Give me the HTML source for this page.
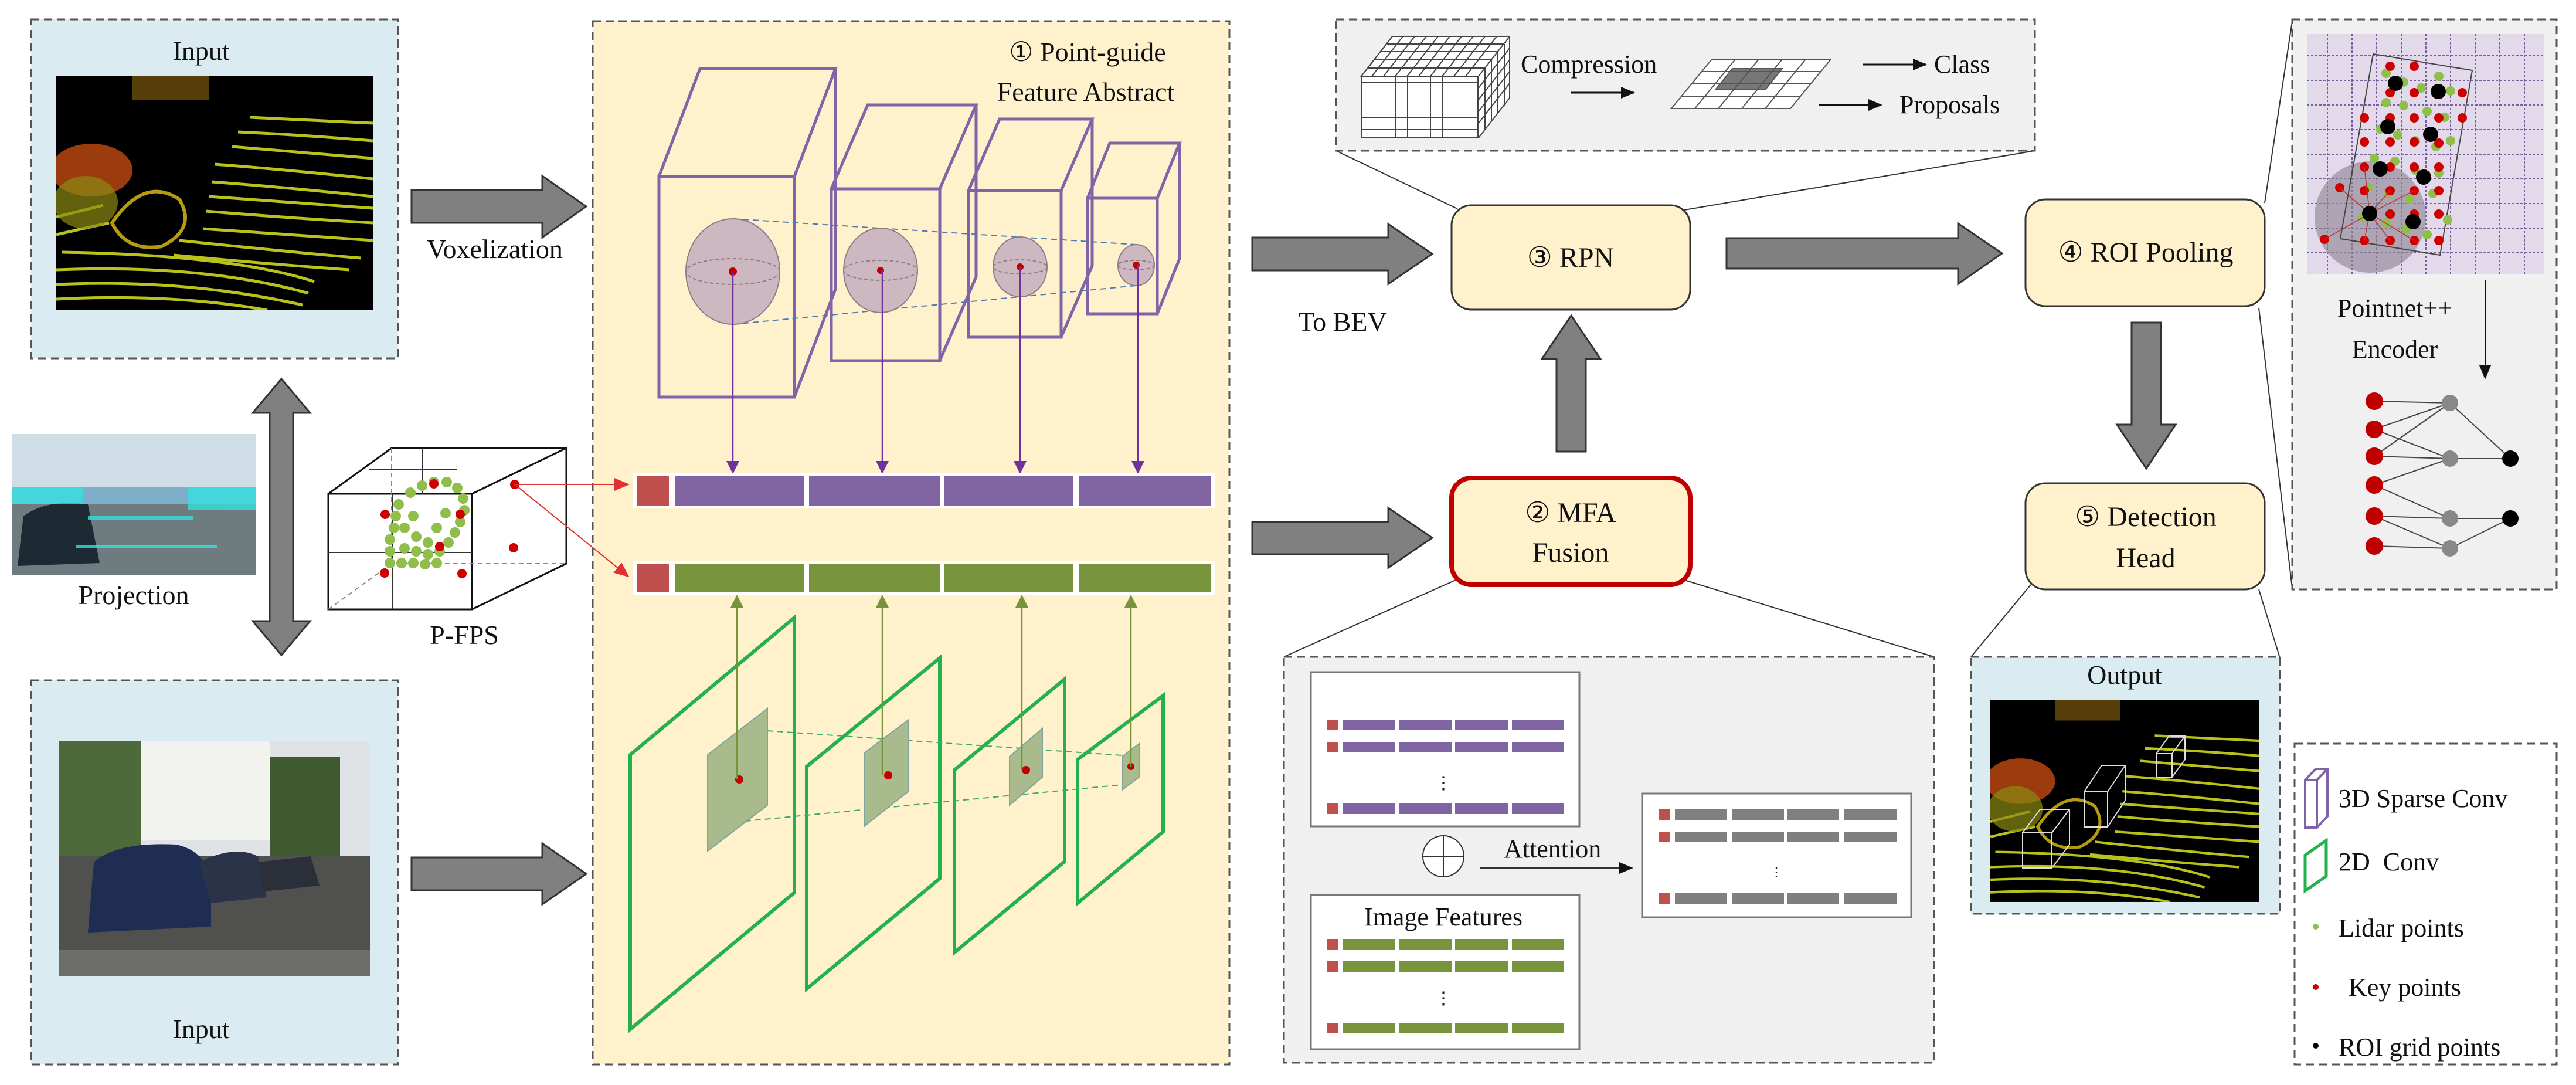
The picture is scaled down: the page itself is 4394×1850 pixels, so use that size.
<!DOCTYPE html>
<html><head><meta charset="utf-8"><style>
html,body{margin:0;padding:0;background:#fff}
svg{display:block;font-family:"Liberation Serif","DejaVu Serif",serif}
svg text{font-family:"Liberation Serif","DejaVu Serif",serif;fill:#111}
</style></head><body>
<svg width="4394" height="1850" viewBox="0 0 4394 1850" xmlns="http://www.w3.org/2000/svg" font-family="Liberation Serif, DejaVu Serif, serif">
<defs>
<marker id="apu" markerWidth="22" markerHeight="22" refX="20" refY="11" orient="auto" markerUnits="userSpaceOnUse"><path d="M0,0 L22,11 L0,22z" fill="#7030a0"/></marker>
<marker id="agu" markerWidth="22" markerHeight="22" refX="20" refY="11" orient="auto" markerUnits="userSpaceOnUse"><path d="M0,0 L22,11 L0,22z" fill="#77933c"/></marker>
<marker id="ar" markerWidth="26" markerHeight="22" refX="24" refY="11" orient="auto" markerUnits="userSpaceOnUse"><path d="M0,0 L26,11 L0,22z" fill="#e03030"/></marker>
<marker id="ak" markerWidth="24" markerHeight="20" refX="22" refY="10" orient="auto" markerUnits="userSpaceOnUse"><path d="M0,0 L24,10 L0,20z" fill="#111"/></marker>
<pattern id="grid" width="42" height="42" patternUnits="userSpaceOnUse" x="3935" y="58"><rect width="42" height="42" fill="#e2d9eb"/><path d="M35,0V42M0,37H42" stroke="#7a5ea0" stroke-width="2" stroke-dasharray="4,3"/></pattern>
<pattern id="g3" width="20" height="20" patternUnits="userSpaceOnUse"><path d="M0,0H20M0,0V20" stroke="#444" stroke-width="2" fill="none"/></pattern>
<clipPath id="c1"><rect x="96" y="130" width="540" height="399"/></clipPath>
<clipPath id="c2"><rect x="3395" y="1194" width="458" height="344"/></clipPath>
<g id="lid">
<rect x="0" y="0" width="540" height="399" fill="#000"/>
<g fill="none" stroke="#b8c21a" stroke-width="5">
<path d="M270,150 Q400,160 540,175"/><path d="M265,180 Q400,190 540,205"/><path d="M260,205 Q400,215 540,225"/><path d="M255,230 Q400,242 540,250"/>
<path d="M250,260 Q400,270 540,280"/><path d="M210,280 Q400,300 520,310"/><path d="M200,305 Q360,320 500,330"/><path d="M10,300 Q300,305 440,350"/>
<path d="M0,330 Q250,320 430,370"/><path d="M0,355 Q220,345 420,390"/><path d="M0,380 Q200,370 360,399"/><path d="M300,120 Q420,130 540,140"/>
<path d="M310,95 Q420,100 540,110"/><path d="M330,70 Q440,75 540,80"/><path d="M0,270 L90,250"/><path d="M0,240 L80,220"/>
</g>
<ellipse cx="60" cy="160" rx="70" ry="45" fill="#c24a12" opacity=".8"/>
<ellipse cx="50" cy="215" rx="55" ry="45" fill="#8a8a14" opacity=".7"/>
<path d="M95,250 Q150,170 210,210 Q240,260 180,290 Q120,300 95,250z" fill="none" stroke="#b59b10" stroke-width="6"/>
<rect x="130" y="0" width="130" height="40" fill="#7a5a10" opacity=".7"/>
</g>
</defs>

<rect x="53" y="33" width="626" height="578" fill="#daebf1" stroke="#555" stroke-width="3" stroke-dasharray="14,8"/>
<text x="343" y="102" font-size="46" text-anchor="middle">Input</text>
<g clip-path="url(#c1)"><use href="#lid" x="96" y="130"/></g>

<rect x="53" y="1160" width="626" height="655" fill="#daebf1" stroke="#555" stroke-width="3" stroke-dasharray="14,8"/>
<text x="343" y="1770" font-size="46" text-anchor="middle">Input</text>
<g>
<rect x="101" y="1263" width="530" height="402" fill="#dfe3e6"/>
<rect x="230" y="1263" width="230" height="170" fill="#f2f2ee"/>
<rect x="101" y="1263" width="140" height="260" fill="#4c6a3a"/>
<rect x="460" y="1290" width="120" height="170" fill="#3f5a30"/>
<rect x="101" y="1460" width="530" height="205" fill="#50514f"/>
<path d="M160,1470 Q200,1435 300,1440 Q350,1450 360,1500 L360,1580 L150,1590z" fill="#1f2d52"/>
<path d="M340,1470 Q400,1440 440,1460 L455,1530 L360,1540z" fill="#2a3348"/>
<path d="M440,1470 L530,1460 L545,1510 L450,1520z" fill="#2a2f3a"/>
<rect x="101" y="1620" width="530" height="45" fill="#6d6d6a"/>
</g>

<rect x="21" y="740" width="416" height="241" fill="#7db0c8"/>
<rect x="21" y="740" width="416" height="90" fill="#cfdde6"/>
<rect x="21" y="860" width="416" height="121" fill="#6e7c80"/>
<path d="M40,880 Q80,850 150,860 L170,960 L30,965z" fill="#1d2a33"/>
<g fill="#36e0e0" opacity=".8"><rect x="21" y="830" width="120" height="30"/><rect x="320" y="830" width="117" height="40"/><rect x="150" y="880" width="180" height="6"/><rect x="130" y="930" width="240" height="5"/></g>
<text x="228" y="1030" font-size="46" text-anchor="middle">Projection</text>

<path d="M480,646 L529,704 L500,704 L500,1059 L529,1059 L480,1117 L431,1059 L460,1059 L460,704 L431,704z" fill="#808080" stroke="#333" stroke-width="3"/>

<g fill="none" stroke="#111" stroke-width="3">
<rect x="560" y="842" width="245" height="197"/>
<path d="M560,842 L668,764 L966,764 L966,961 L805,1039 M805,842 L966,764"/>
</g>
<g fill="none" stroke="#888" stroke-width="2" stroke-dasharray="8,6">
<path d="M560,1039 L668,961 L966,961 M668,764 L668,961"/>
</g>
<g stroke="#333" stroke-width="2" fill="none"><path d="M670,842 L670,1039 M560,942 L805,942 M630,800 L780,800 M720,764 L720,842"/></g>
<g fill="#8fbf4a">
<circle cx="700" cy="840" r="9"/><circle cx="720" cy="828" r="9"/><circle cx="740" cy="822" r="9"/><circle cx="762" cy="822" r="9"/><circle cx="780" cy="832" r="9"/><circle cx="790" cy="850" r="9"/><circle cx="792" cy="870" r="9"/><circle cx="785" cy="890" r="9"/><circle cx="776" cy="908" r="9"/><circle cx="765" cy="925" r="9"/>
<circle cx="680" cy="860" r="9"/><circle cx="675" cy="880" r="9"/><circle cx="672" cy="900" r="9"/><circle cx="665" cy="920" r="9"/><circle cx="665" cy="940" r="9"/><circle cx="665" cy="960" r="9"/><circle cx="685" cy="960" r="9"/><circle cx="705" cy="960" r="9"/><circle cx="725" cy="962" r="9"/><circle cx="745" cy="960" r="9"/>
<circle cx="690" cy="900" r="9"/><circle cx="710" cy="915" r="9"/><circle cx="730" cy="925" r="9"/><circle cx="750" cy="940" r="9"/><circle cx="690" cy="935" r="9"/><circle cx="710" cy="940" r="9"/><circle cx="730" cy="945" r="9"/><circle cx="705" cy="880" r="9"/><circle cx="745" cy="900" r="9"/><circle cx="760" cy="875" r="9"/>
</g>
<g fill="#d00000"><circle cx="740" cy="825" r="8"/><circle cx="878" cy="826" r="8"/><circle cx="657" cy="877" r="8"/><circle cx="785" cy="877" r="8"/><circle cx="750" cy="932" r="8"/><circle cx="876" cy="934" r="8"/><circle cx="656" cy="977" r="8"/><circle cx="788" cy="978" r="8"/></g>
<text x="792" y="1098" font-size="46" text-anchor="middle">P-FPS</text>

<g fill="#808080" stroke="#333" stroke-width="3">
<path d="M702,324 L925,324 L925,300 L1000,352 L925,405 L925,380 L702,380z"/>
<path d="M702,1462 L925,1462 L925,1438 L1000,1490 L925,1542 L925,1518 L702,1518z"/>
<path d="M2136,405 L2368,405 L2368,382 L2443,433 L2368,484 L2368,461 L2136,461z"/>
<path d="M2136,890 L2368,890 L2368,866 L2443,917 L2368,968 L2368,945 L2136,945z"/>
<path d="M2945,406 L3340,406 L3340,381 L3415,432 L3340,484 L3340,458 L2945,458z"/>
<path d="M2655,770 L2655,612 L2630,612 L2680,538 L2730,612 L2705,612 L2705,770z"/>
<path d="M3636,550 L3686,550 L3686,724 L3711,724 L3661,799 L3611,724 L3636,724z"/>
</g>
<text x="844" y="440" font-size="46" text-anchor="middle">Voxelization</text>
<text x="2290" y="564" font-size="46" text-anchor="middle">To BEV</text>

<rect x="1011" y="36" width="1086" height="1779" fill="#fef1cc" stroke="#555" stroke-width="3" stroke-dasharray="14,8"/>
<text x="1855" y="104" font-size="46" text-anchor="middle">① Point-guide</text>
<text x="1852" y="172" font-size="46" text-anchor="middle">Feature Abstract</text>

<g fill="none" stroke="#8064a8" stroke-width="5">
<path d="M1124,301 L1124,677 L1355,677 L1355,301z M1124,301 L1194,117 L1425,117 L1355,301 M1425,117 L1425,493 L1355,677"/>
<path d="M1418,322 L1418,615 L1603,615 L1603,322z M1418,322 L1480,179 L1665,179 L1603,322 M1665,179 L1665,472 L1603,615"/>
<path d="M1652,325 L1652,575 L1810,575 L1810,325z M1652,325 L1705,203 L1863,203 L1810,325 M1863,203 L1863,453 L1810,575"/>
<path d="M1855,338 L1855,535 L1974,535 L1974,338z M1855,338 L1893,244 L2012,244 L1974,338 M2012,244 L2012,441 L1974,535"/>
</g>
<g stroke="#4a7ab0" stroke-width="2" stroke-dasharray="10,7" fill="none">
<path d="M1250,373 L1938,417"/><path d="M1250,553 L1938,487"/>
</g>
<g fill="#cdb8c2" stroke="#8c7d88" stroke-width="2">
<ellipse cx="1250" cy="463" rx="80" ry="90"/><ellipse cx="1502" cy="461" rx="63" ry="72"/><ellipse cx="1740" cy="455" rx="46" ry="51"/><ellipse cx="1938" cy="452" rx="31" ry="35"/>
</g>
<g fill="none" stroke="#8c7d88" stroke-width="2" stroke-dasharray="6,4">
<ellipse cx="1250" cy="463" rx="80" ry="22"/><ellipse cx="1502" cy="461" rx="63" ry="17"/><ellipse cx="1740" cy="455" rx="46" ry="12"/><ellipse cx="1938" cy="452" rx="31" ry="8"/>
</g>
<g fill="#c00000"><circle cx="1250" cy="463" r="7"/><circle cx="1502" cy="461" r="6"/><circle cx="1740" cy="455" r="6"/><circle cx="1938" cy="452" r="6"/></g>
<g stroke="#7030a0" stroke-width="2.5">
<path d="M1250,463 L1250,806" marker-end="url(#apu)"/><path d="M1505,461 L1505,806" marker-end="url(#apu)"/><path d="M1740,455 L1740,806" marker-end="url(#apu)"/><path d="M1941,452 L1941,806" marker-end="url(#apu)"/>
</g>

<rect x="1080" y="807" width="992" height="60" fill="#fff"/>
<rect x="1086" y="812" width="55" height="50" fill="#c0504d"/>
<g fill="#8064a2"><rect x="1151" y="812" width="221" height="50"/><rect x="1380" y="812" width="223" height="50"/><rect x="1610" y="812" width="221" height="50"/><rect x="1841" y="812" width="224" height="50"/></g>
<rect x="1080" y="956" width="992" height="58" fill="#fff"/>
<rect x="1086" y="961" width="55" height="48" fill="#c0504d"/>
<g fill="#77933c"><rect x="1151" y="961" width="221" height="48"/><rect x="1380" y="961" width="223" height="48"/><rect x="1610" y="961" width="221" height="48"/><rect x="1841" y="961" width="224" height="48"/></g>
<path d="M878,826 L1072,826" stroke="#e03030" stroke-width="2" marker-end="url(#ar)"/>
<path d="M878,826 L1072,983" stroke="#e03030" stroke-width="2" marker-end="url(#ar)"/>

<g fill="none" stroke="#22b14c" stroke-width="6">
<path d="M1075,1287 L1355,1053 L1355,1522 L1075,1755z"/>
<path d="M1376,1307 L1603,1122 L1603,1498 L1376,1686z"/>
<path d="M1628,1313 L1816,1158 L1816,1469 L1628,1624z"/>
<path d="M1838,1295 L1984,1186 L1984,1418 L1838,1540z"/>
</g>
<g stroke="#3aa870" stroke-width="2" stroke-dasharray="10,7" fill="none">
<path d="M1309,1246 L1943,1290"/><path d="M1220,1405 L1914,1338"/>
</g>
<g fill="#a9bb8c" stroke="#7fa4a0" stroke-width="2">
<path d="M1207,1287 L1309,1208 L1309,1373 L1207,1451z"/>
<path d="M1474,1284 L1550,1227 L1550,1349 L1474,1409z"/>
<path d="M1722,1290 L1778,1242 L1778,1325 L1722,1373z"/>
<path d="M1914,1290 L1943,1268 L1943,1325 L1914,1347z"/>
</g>
<g fill="#c00000"><circle cx="1261" cy="1329" r="7"/><circle cx="1515" cy="1322" r="7"/><circle cx="1750" cy="1313" r="7"/><circle cx="1929" cy="1307" r="6"/></g>
<g stroke="#77933c" stroke-width="2.5">
<path d="M1257,1329 L1257,1016" marker-end="url(#agu)"/><path d="M1505,1322 L1505,1016" marker-end="url(#agu)"/><path d="M1743,1313 L1743,1016" marker-end="url(#agu)"/><path d="M1929,1307 L1929,1016" marker-end="url(#agu)"/>
</g>

<path d="M2279,257 L2486,356 M3471,257 L2873,358" stroke="#333" stroke-width="2"/>
<rect x="2279" y="33" width="1192" height="224" fill="#f0f0f0" stroke="#555" stroke-width="3" stroke-dasharray="14,8"/>
<g stroke="#444" stroke-width="2" fill="#fff">
<path d="M2322,235 L2322,130 L2375,62 L2575,62 L2575,167 L2522,235z"/>
<rect x="2322" y="130" width="200" height="105" fill="url(#g3)"/>
<path d="M2322,130 L2375,62 L2575,62 L2522,130z" fill="none"/>
<path d="M2340,130 L2393,62 M2360,130 L2413,62 M2380,130 L2433,62 M2400,130 L2453,62 M2420,130 L2473,62 M2440,130 L2493,62 M2460,130 L2513,62 M2480,130 L2533,62 M2500,130 L2553,62 M2333,116 L2533,116 M2344,102 L2544,102 M2355,88 L2555,88 M2366,75 L2566,75 M2533,116 L2533,221 M2544,102 L2544,207 M2555,88 L2555,193 M2566,75 L2566,180 M2522,150 L2575,82 M2522,170 L2575,102 M2522,190 L2575,122 M2522,210 L2575,142" fill="none"/>
</g>
<text x="2594" y="124" font-size="44">Compression</text>
<path d="M2680,158 L2787,158" stroke="#111" stroke-width="3" marker-end="url(#ak)"/>
<g stroke="#555" stroke-width="2" fill="#fff">
<path d="M2851,185 L2920,101 L3123,101 L3054,185z"/>
<path d="M2926,153 L2955,117 L3040,117 L3011,153z" fill="#777"/>
<path d="M2868,164 L3071,164 M2885,143 L3088,143 M2902,122 L3105,122 M2891,185 L2960,101 M2931,185 L3000,101 M2971,185 L3040,101 M3011,185 L3080,101" fill="none"/>
</g>
<path d="M3177,110 L3285,110" stroke="#111" stroke-width="3" marker-end="url(#ak)"/>
<path d="M3102,179 L3209,179" stroke="#111" stroke-width="3" marker-end="url(#ak)"/>
<text x="3299" y="124" font-size="44">Class</text>
<text x="3240" y="193" font-size="44">Proposals</text>

<rect x="2476" y="350" width="407" height="178" rx="34" fill="#fef1cc" stroke="#333" stroke-width="3"/>
<text x="2679" y="455" font-size="48" text-anchor="middle">③ RPN</text>
<path d="M2483,989 L2190,1120 M2873,989 L3299,1120" stroke="#333" stroke-width="2"/>
<rect x="2476" y="815" width="407" height="182" rx="34" fill="#fef1cc" stroke="#c00000" stroke-width="8"/>
<text x="2679" y="890" font-size="48" text-anchor="middle">② MFA</text>
<text x="2679" y="958" font-size="48" text-anchor="middle">Fusion</text>
<rect x="3455" y="340" width="408" height="182" rx="34" fill="#fef1cc" stroke="#333" stroke-width="3"/>
<text x="3660" y="446" font-size="48" text-anchor="middle">④ ROI Pooling</text>
<rect x="3455" y="824" width="408" height="181" rx="34" fill="#fef1cc" stroke="#333" stroke-width="3"/>
<text x="3660" y="897" font-size="48" text-anchor="middle">⑤ Detection</text>
<text x="3660" y="967" font-size="48" text-anchor="middle">Head</text>

<path d="M3863,346 L3910,36 M3853,525 L3910,1003" stroke="#333" stroke-width="2"/>
<rect x="3910" y="33" width="451" height="972" fill="#f0f0f0" stroke="#555" stroke-width="3" stroke-dasharray="14,8"/>
<rect x="3935" y="58" width="405" height="409" fill="url(#grid)"/>
<circle cx="4043" cy="370" r="95" fill="#8a8290" opacity=".6"/>
<path d="M4048,92 L4217,120 L4162,435 L3992,407z" fill="none" stroke="#444" stroke-width="2"/>
<g fill="#8fbf4a">
<circle cx="4070" cy="125" r="8"/><circle cx="4100" cy="140" r="8"/><circle cx="4130" cy="150" r="8"/><circle cx="4160" cy="130" r="8"/><circle cx="4180" cy="155" r="8"/><circle cx="4070" cy="175" r="8"/><circle cx="4100" cy="180" r="8"/><circle cx="4140" cy="190" r="8"/><circle cx="4170" cy="200" r="8"/>
<circle cx="4060" cy="220" r="8"/><circle cx="4090" cy="230" r="8"/><circle cx="4120" cy="240" r="8"/><circle cx="4155" cy="250" r="8"/><circle cx="4180" cy="240" r="8"/><circle cx="4050" cy="270" r="8"/><circle cx="4085" cy="275" r="8"/><circle cx="4120" cy="290" r="8"/><circle cx="4160" cy="295" r="8"/>
<circle cx="4040" cy="320" r="8"/><circle cx="4075" cy="330" r="8"/><circle cx="4110" cy="340" r="8"/><circle cx="4150" cy="330" r="8"/><circle cx="4030" cy="370" r="8"/><circle cx="4070" cy="380" r="8"/><circle cx="4105" cy="390" r="8"/><circle cx="4140" cy="400" r="8"/><circle cx="4175" cy="375" r="8"/>
</g>
<g fill="#d00000">
<circle cx="4077" cy="113" r="8"/><circle cx="4118" cy="113" r="8"/><circle cx="4077" cy="158" r="8"/><circle cx="4118" cy="158" r="8"/><circle cx="4200" cy="158" r="8"/>
<circle cx="4033" cy="201" r="8"/><circle cx="4077" cy="201" r="8"/><circle cx="4118" cy="201" r="8"/><circle cx="4160" cy="201" r="8"/><circle cx="4200" cy="201" r="8"/>
<circle cx="4033" cy="242" r="8"/><circle cx="4077" cy="242" r="8"/><circle cx="4118" cy="242" r="8"/><circle cx="4160" cy="244" r="8"/>
<circle cx="4033" cy="285" r="8"/><circle cx="4077" cy="285" r="8"/><circle cx="4118" cy="285" r="8"/><circle cx="4160" cy="285" r="8"/>
<circle cx="3991" cy="320" r="8"/><circle cx="4033" cy="325" r="8"/><circle cx="4077" cy="325" r="8"/><circle cx="4118" cy="325" r="8"/><circle cx="4160" cy="325" r="8"/>
<circle cx="4077" cy="365" r="8"/><circle cx="4118" cy="365" r="8"/><circle cx="4160" cy="365" r="8"/>
<circle cx="3965" cy="408" r="8"/><circle cx="4033" cy="410" r="8"/><circle cx="4077" cy="410" r="8"/><circle cx="4118" cy="410" r="8"/><circle cx="4160" cy="410" r="8"/>
</g>
<g stroke="#c03030" stroke-width="1.5"><path d="M4042,364 L3965,408 M4042,364 L3991,320 M4042,364 L4033,410 M4042,364 L4077,410 M4042,364 L4118,410 M4042,364 L4118,325 M4042,364 L4077,325 M4042,364 L4033,285"/></g>
<g fill="#000"><circle cx="4086" cy="142" r="13"/><circle cx="4159" cy="156" r="13"/><circle cx="4073" cy="216" r="13"/><circle cx="4146" cy="229" r="13"/><circle cx="4060" cy="288" r="13"/><circle cx="4134" cy="302" r="13"/><circle cx="4042" cy="364" r="13"/><circle cx="4116" cy="378" r="13"/></g>
<text x="4085" y="540" font-size="44" text-anchor="middle">Pointnet++</text>
<text x="4085" y="610" font-size="44" text-anchor="middle">Encoder</text>
<path d="M4239,478 L4239,645" stroke="#111" stroke-width="2" marker-end="url(#ak)"/>
<g stroke="#444" stroke-width="2">
<path d="M4050,684 L4179,687 M4050,732 L4179,687 M4050,778 L4179,687 M4050,732 L4179,782 M4050,778 L4179,782 M4050,827 L4179,782 M4050,880 L4179,884 M4050,827 L4179,884 M4050,880 L4179,935 M4050,931 L4179,935 M4179,687 L4282,782 M4179,782 L4282,782 M4179,884 L4282,884 M4179,935 L4282,884"/>
</g>
<g fill="#c00000"><circle cx="4050" cy="684" r="15"/><circle cx="4050" cy="732" r="15"/><circle cx="4050" cy="778" r="15"/><circle cx="4050" cy="827" r="15"/><circle cx="4050" cy="880" r="15"/><circle cx="4050" cy="931" r="15"/></g>
<g fill="#888"><circle cx="4179" cy="687" r="14"/><circle cx="4179" cy="782" r="14"/><circle cx="4179" cy="884" r="14"/><circle cx="4179" cy="935" r="14"/></g>
<g fill="#000"><circle cx="4282" cy="782" r="14"/><circle cx="4282" cy="884" r="14"/></g>

<path d="M3464,997 L3362,1120 M3853,1005 L3889,1122" stroke="#333" stroke-width="2"/>
<rect x="3362" y="1120" width="527" height="438" fill="#daebf1" stroke="#555" stroke-width="3" stroke-dasharray="14,8"/>
<text x="3624" y="1166" font-size="46" text-anchor="middle">Output</text>
<g clip-path="url(#c2)"><use href="#lid" transform="translate(3395,1194) scale(0.85,0.862)"/></g>
<g fill="none" stroke="#ddd" stroke-width="2">
<path d="M3450,1480 L3500,1480 L3500,1420 L3450,1420z M3450,1420 L3480,1380 L3530,1380 L3500,1420 M3530,1380 L3530,1440 L3500,1480"/>
<path d="M3555,1410 L3595,1410 L3595,1350 L3555,1350z M3555,1350 L3585,1305 L3625,1305 L3595,1350 M3625,1305 L3625,1365 L3595,1410"/>
<path d="M3678,1325 L3705,1325 L3705,1285 L3678,1285z M3678,1285 L3700,1255 L3727,1255 L3705,1285 M3727,1255 L3727,1295 L3705,1325"/>
</g>

<rect x="3914" y="1268" width="447" height="547" fill="#fff" stroke="#555" stroke-width="3" stroke-dasharray="14,8"/>
<path d="M3932,1411 L3932,1330 L3950,1311 L3970,1311 L3970,1392 L3952,1411z M3932,1330 L3952,1330 L3970,1311 M3952,1330 L3952,1411" fill="none" stroke="#8064a8" stroke-width="4"/>
<text x="3989" y="1376" font-size="44">3D Sparse Conv</text>
<path d="M3932,1519 L3932,1458 L3968,1433 L3968,1494z" fill="none" stroke="#22b14c" stroke-width="5"/>
<text x="3989" y="1484" font-size="44" xml:space="preserve">2D  Conv</text>
<circle cx="3950" cy="1580" r="5" fill="#8fbf4a"/>
<text x="3989" y="1597" font-size="44">Lidar points</text>
<circle cx="3950" cy="1683" r="5" fill="#d00000"/>
<text x="4006" y="1698" font-size="44">Key points</text>
<circle cx="3950" cy="1783" r="5" fill="#000"/>
<text x="3989" y="1800" font-size="44">ROI grid points</text>

<rect x="2190" y="1120" width="1109" height="692" fill="#f0f0f0" stroke="#555" stroke-width="3" stroke-dasharray="14,8"/>
<rect x="2236" y="1146" width="458" height="263" fill="#fff" stroke="#777" stroke-width="3"/>
<g fill="#c0504d"><rect x="2264" y="1227" width="19" height="18"/><rect x="2264" y="1265" width="19" height="18"/><rect x="2264" y="1370" width="19" height="18"/></g>
<g fill="#8064a2">
<rect x="2290" y="1227" width="89" height="18"/><rect x="2386" y="1227" width="90" height="18"/><rect x="2482" y="1227" width="90" height="18"/><rect x="2579" y="1227" width="89" height="18"/>
<rect x="2290" y="1265" width="89" height="18"/><rect x="2386" y="1265" width="90" height="18"/><rect x="2482" y="1265" width="90" height="18"/><rect x="2579" y="1265" width="89" height="18"/>
<rect x="2290" y="1370" width="89" height="18"/><rect x="2386" y="1370" width="90" height="18"/><rect x="2482" y="1370" width="90" height="18"/><rect x="2579" y="1370" width="89" height="18"/>
</g>
<text x="2462" y="1345" font-size="30" text-anchor="middle">⋮</text>
<circle cx="2462" cy="1460" r="35" fill="#fff" stroke="#333" stroke-width="2"/>
<path d="M2427,1460 L2497,1460 M2462,1425 L2462,1495" stroke="#333" stroke-width="2"/>
<text x="2565" y="1462" font-size="44">Attention</text>
<path d="M2525,1480 L2784,1480" stroke="#333" stroke-width="2" marker-end="url(#ak)"/>
<rect x="2236" y="1526" width="458" height="263" fill="#fff" stroke="#777" stroke-width="3"/>
<text x="2462" y="1578" font-size="44" text-anchor="middle">Image Features</text>
<g fill="#c0504d"><rect x="2264" y="1601" width="19" height="18"/><rect x="2264" y="1639" width="19" height="18"/><rect x="2264" y="1744" width="19" height="18"/></g>
<g fill="#77933c">
<rect x="2290" y="1601" width="89" height="18"/><rect x="2386" y="1601" width="90" height="18"/><rect x="2482" y="1601" width="90" height="18"/><rect x="2579" y="1601" width="89" height="18"/>
<rect x="2290" y="1639" width="89" height="18"/><rect x="2386" y="1639" width="90" height="18"/><rect x="2482" y="1639" width="90" height="18"/><rect x="2579" y="1639" width="89" height="18"/>
<rect x="2290" y="1744" width="89" height="18"/><rect x="2386" y="1744" width="90" height="18"/><rect x="2482" y="1744" width="90" height="18"/><rect x="2579" y="1744" width="89" height="18"/>
</g>
<text x="2462" y="1712" font-size="30" text-anchor="middle">⋮</text>
<rect x="2801" y="1353" width="459" height="211" fill="#fff" stroke="#777" stroke-width="3"/>
<g fill="#c0504d"><rect x="2830" y="1380" width="18" height="18"/><rect x="2830" y="1418" width="18" height="18"/><rect x="2830" y="1523" width="18" height="18"/></g>
<g fill="#7f7f7f">
<rect x="2857" y="1380" width="89" height="18"/><rect x="2954" y="1380" width="89" height="18"/><rect x="3049" y="1380" width="88" height="18"/><rect x="3146" y="1380" width="89" height="18"/>
<rect x="2857" y="1418" width="89" height="18"/><rect x="2954" y="1418" width="89" height="18"/><rect x="3049" y="1418" width="88" height="18"/><rect x="3146" y="1418" width="89" height="18"/>
<rect x="2857" y="1523" width="89" height="18"/><rect x="2954" y="1523" width="89" height="18"/><rect x="3049" y="1523" width="88" height="18"/><rect x="3146" y="1523" width="89" height="18"/>
</g>
<text x="3030" y="1494" font-size="22" text-anchor="middle">⋮</text>
</svg>
</body></html>
